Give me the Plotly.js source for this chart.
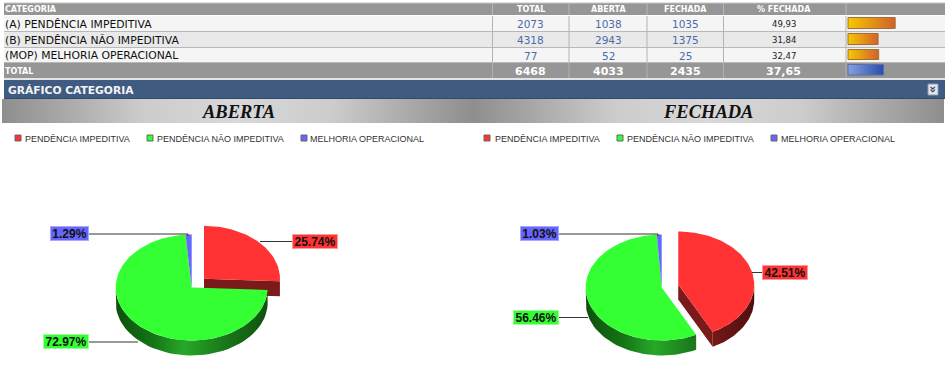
<!DOCTYPE html>
<html><head><meta charset="utf-8">
<script src="https://cdn.plot.ly/plotly-3.0.1.min.js"></script>
<style>html,body{margin:0;padding:0;background:#fff;overflow:hidden}#c{width:945px;height:377px}</style>
</head><body><div id="c"></div>
<script>
// ---- data ----
const categories = ["(A) PENDÊNCIA IMPEDITIVA","(B) PENDÊNCIA NÃO IMPEDITIVA","(MOP) MELHORIA OPERACIONAL"];
const totals = [2073,4318,77];
const abertas = [1038,2943,52];
const fechadas = [1035,1375,25];
const pctFechada = [49.93,31.84,32.47];
const totalRow = ["6468","4033","2435","37,65"];
const totalPct = 37.65;
const headers = ["TOTAL","ABERTA","FECHADA","% FECHADA"];
const legendNames = ["PENDÊNCIA IMPEDITIVA","PENDÊNCIA NÃO IMPEDITIVA","MELHORIA OPERACIONAL"];
const abertaShares = [25.74,72.97,1.29];
const fechadaShares = [42.51,56.46,1.03];

// ---- styling / layout constants ----
const topCol = ['#ff3333','#33ff33','#6666ff'];
const wallScales = [
 [[0,'#4f0f0f'],[0.25,'#6f1515'],[0.45,'#9a2222'],[0.7,'#7a1818'],[1,'#4f0f0f']],
 [[0,'#0c4f0c'],[0.25,'#157515'],[0.45,'#28a828'],[0.7,'#1a7a1a'],[1,'#0e520e']],
 [[0,'#22225f'],[1,'#22225f']]];
const cutCol = ['#7a1a1a','#157515','#22225f'];
const RX=76, RY=53, DEPTH=15, PULLX=17, PULLY=12.5;
const colX=[492.5,569,647,723.5,846];
const rowY=[[16,31],[32,47],[48,62]];
const ink='#111';

const traces=[], shapes=[], ann=[];
function rect(x0,y0,x1,y1,fill,line){shapes.push({type:'rect',layer:'below',x0,y0,x1,y1,fillcolor:fill,line:{width:line?1:0,color:line||fill}});}
function seg(x0,y0,x1,y1,col){shapes.push({type:'line',layer:'below',x0,y0,x1,y1,line:{width:1,color:col}});}
function text(x,y,t,size,color,o){ann.push(Object.assign({x,y,text:t,showarrow:false,xanchor:'center',yanchor:'middle',
  font:{family:'"DejaVu Sans"',size,color}},o||{}));}
function poly(xs,ys,fill,grad){
  const t={x:xs,y:ys,mode:'lines',line:{width:0},fill:'toself',hoverinfo:'skip',showlegend:false,type:'scatter'};
  if(grad) t.fillgradient=grad; else t.fillcolor=fill;
  traces.push(t);
}
function hgrad(x0,y0,x1,y1,scale,start,stop){
  const g={type:'horizontal',colorscale:scale};
  if(start!==undefined){g.start=start;g.stop=stop;}
  poly([x0,x1,x1,x0,x0],[y0,y0,y1,y1,y0],null,g);
}
function lineTr(xs,ys,col,w){traces.push({x:xs,y:ys,mode:'lines',line:{width:w||1,color:col},hoverinfo:'skip',showlegend:false,type:'scatter'});}

// ---- table ----
rect(4,3,945,15,'#969696');
seg(4,3,945,3,'#c4c4c4');
text(3,9.5,'CATEGORIA',8,'#fff',{xanchor:'left',font:{family:'"DejaVu Sans"',size:8,color:'#fff',weight:700}});
rowY.forEach((r,i)=>{
  const my=(r[0]+r[1])/2+0.5;
  rect(4,r[0],945,r[1],i%2?'#e9e9e9':'#f5f5f5');
  seg(4,r[1]+.5,945,r[1]+.5,'#b8b8b8');
  text(3,my,categories[i],10.8,ink,{xanchor:'left'});
  const cx=[(colX[0]+colX[1])/2,(colX[1]+colX[2])/2,(colX[2]+colX[3])/2,(colX[3]+colX[4])/2-1];
  text(cx[0],my,String(totals[i]),10.5,'#4d69a8');
  text(cx[1],my,String(abertas[i]),10.5,'#4d69a8');
  text(cx[2],my,String(fechadas[i]),10.5,'#4d69a8');
  text(cx[3],my,pctFechada[i].toFixed(2).replace('.',','),8.5,'#222');
  const w=pctFechada[i]*0.945;
  hgrad(848,r[0]+1.5,848+w,r[1]-2.5,[[0,'#f5c800'],[1,'#d2602c']]);
  lineTr([848,848+w,848+w,848,848],[r[0]+1.5,r[0]+1.5,r[1]-2.5,r[1]-2.5,r[0]+1.5],'#a0703a');
});
rect(4,63,945,78,'#969696');
seg(4,79,945,79,'#c8c8c8');
headers.forEach((h,i)=>{
  const c=(colX[i]+colX[i+1])/2-(i==3?1:0);
  text(c,9.5,h,8,'#fff',{font:{family:'"DejaVu Sans"',size:8,color:'#fff',weight:700}});
  text(c,71,totalRow[i],11,'#fff',{font:{family:'"DejaVu Sans"',size:11,color:'#fff',weight:700}});
});
text(3,71,'TOTAL',8,'#fff',{xanchor:'left',font:{family:'"DejaVu Sans"',size:8,color:'#fff',weight:700}});
colX.forEach(x=>{seg(x,3,x,15,'#b8b8b8');seg(x,16,x,62,'#b4b4b4');seg(x,63,x,78,'#b0b0b0');});
const tw=totalPct*0.945;
hgrad(848,64.5,848+tw,75,[[0,'#86a0de'],[1,'#2c4cab']]);
lineTr([848,848+tw,848+tw,848,848],[64.5,64.5,75,75,64.5],'#5a6fa8');

// ---- section band ----
rect(4,80,945,98,'#405b82');
seg(4,98.5,945,98.5,'#2f4a72');
text(6,90.5,'GRÁFICO CATEGORIA',10.7,'#f4f4f4',{xanchor:'left',font:{family:'"DejaVu Sans"',size:10.7,color:'#f4f4f4',weight:700}});
rect(928,84,938,95,'#e4e8ee','#8a9ab0');
text(933,89.5,'»',12,'#33415c',{textangle:90,font:{family:'"DejaVu Sans"',size:12,color:'#33415c',weight:700}});

// ---- title bands ----
const bandScale=[[0,'#8e8e8e'],[0.12,'#a6a6a6'],[0.3,'#cccccc'],[0.5,'#d8d8d8'],[0.7,'#cccccc'],[0.88,'#a6a6a6'],[1,'#8e8e8e']];
hgrad(2,99,473,123,bandScale);
hgrad(473,99,944,123,bandScale);
function serif(x,t){ann.push({x,y:112,text:t,showarrow:false,xanchor:'center',yanchor:'middle',
  font:{family:'"Liberation Serif"',size:18.5,color:'#111',weight:700,style:'italic'}});}
serif(238,'ABERTA');
serif(708,'FECHADA');

// ---- legends ----
function legend(xs,labelXs){
  legendNames.forEach((n,i)=>{
    rect(xs[i],135,xs[i]+6,141,topCol[i],'#666');
    ann.push({x:labelXs[i],y:138.5,text:n,showarrow:false,xanchor:'left',yanchor:'middle',
      font:{family:'"Liberation Sans"',size:9,color:'#333'}});
  });
}
legend([15,147,301],[23,155,308]);
legend([484,617,771],[493,625,779]);

// ---- pies ----
function P(cx,cy,f){const t=2*Math.PI*f;return [cx+RX*Math.sin(t),cy-RY*Math.cos(t)];}
function drawPie(shares,cx,cy,labels){
  let acc=0;
  const slices=shares.map((s,i)=>{
    const f0=acc/100;acc+=s;const f1=acc/100;
    const mid=2*Math.PI*(f0+f1)/2;
    const px=i==0?PULLX*Math.sin(mid):0, py=i==0?-PULLY*Math.cos(mid):0;
    return {f0,f1,ax:cx+px,ay:cy+py,i};
  });
  slices.forEach(s=>{
    const a=Math.max(s.f0,0.25), b=Math.min(s.f1,0.75);
    if(s.f1>0.25 && s.f1<0.75){
      const e=P(s.ax,s.ay,s.f1);
      poly([s.ax,e[0],e[0],s.ax,s.ax],[s.ay,e[1],e[1]+DEPTH,s.ay+DEPTH,s.ay],cutCol[s.i]);
    }
    if(b>a){
      const xs=[],ys=[],n=48;
      for(let k=0;k<=n;k++){const p=P(s.ax,s.ay,a+(b-a)*k/n);xs.push(p[0]);ys.push(p[1]);}
      for(let k=n;k>=0;k--){const p=P(s.ax,s.ay,a+(b-a)*k/n);xs.push(p[0]);ys.push(p[1]+DEPTH);}
      xs.push(xs[0]);ys.push(ys[0]);
      poly(xs,ys,null,{type:'horizontal',colorscale:wallScales[s.i],start:s.ax-RX,stop:s.ax+RX});
    }
  });
  slices.forEach(s=>{
    const xs=[s.ax],ys=[s.ay],n=Math.max(3,Math.ceil((s.f1-s.f0)*200));
    for(let k=0;k<=n;k++){const p=P(s.ax,s.ay,s.f0+(s.f1-s.f0)*k/n);xs.push(p[0]);ys.push(p[1]);}
    xs.push(s.ax);ys.push(s.ay);
    poly(xs,ys,topCol[s.i]);
  });
  labels.forEach((l,i)=>{
    lineTr(l.line[0],l.line[1],'#333');
    ann.push({x:l.x,y:l.y,width:l.w,height:13,text:shares[i].toFixed(2)+'%',showarrow:false,xanchor:'center',yanchor:'middle',
      bgcolor:topCol[i],bordercolor:l.b,borderwidth:1,borderpad:0,
      font:{family:'"Liberation Sans"',size:12,color:'#111',weight:700}});
  });
}
drawPie(abertaShares,191.7,287.5,[
  {x:315,y:241.5,w:44,b:'#ff9a9a',line:[[293,260],[241.5,241.5]]},
  {x:66,y:341.5,w:44,b:'#99ff99',line:[[89,138],[342,342]]},
  {x:69.5,y:233.5,w:37,b:'#a8a8ff',line:[[89,188,188],[234,234,236]]}]);
drawPie(fechadaShares,661.7,287.5,[
  {x:785,y:272,w:44,b:'#ff9a9a',line:[[762,752],[272.5,272.5]]},
  {x:536,y:317.5,w:44,b:'#99ff99',line:[[559,588],[317.5,317.5]]},
  {x:539.5,y:233.5,w:37,b:'#a8a8ff',line:[[559,658,658],[234,234,236]]}]);

Plotly.newPlot('c',traces,{
  width:945,height:377,margin:{l:0,r:0,t:0,b:0},paper_bgcolor:'#fff',plot_bgcolor:'#fff',showlegend:false,
  xaxis:{range:[0,945],visible:false,fixedrange:true},
  yaxis:{range:[377,0],visible:false,fixedrange:true},
  shapes,annotations:ann
},{staticPlot:true,displayModeBar:false});
</script></body></html>
